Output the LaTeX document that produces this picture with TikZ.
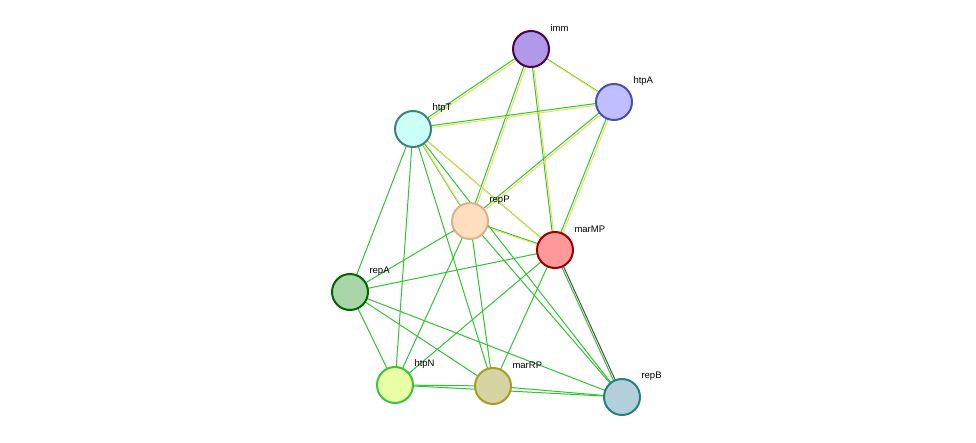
\documentclass[tikz,border=0pt]{standalone}
\usepackage{fontspec}
\setmainfont{Liberation Sans}
\begin{document}
\begin{tikzpicture}[x=1pt,y=-1pt,
 nd/.style={circle,minimum size=36pt,inner sep=0pt,line width=2pt},
 ge/.style={draw=green!70!black!80,line width=1pt},
 ye/.style={draw=yellow!85!black!70,line width=1pt},
 lb/.style={font=\fontsize{9.5pt}{10pt}\selectfont,anchor=west}]
\useasboundingbox (0,0) rectangle (976,443);
\def\nd#1#2#3#4#5#6{\node[nd,fill=#4,draw=#5] (#1) at (#2,#3) {};
 \node[lb] at (#2+16,#3-21) {#6};}
\begin{scope}[on background layer/.try]
\end{scope}
% nodes first at coordinates for edges
\coordinate (imm) at (531,49);
\coordinate (htpA) at (614,102);
\coordinate (htpT) at (413,129);
\coordinate (repP) at (470,221);
\coordinate (marMP) at (555,250);
\coordinate (repA) at (350,292);
\coordinate (htpN) at (395,385);
\coordinate (marRP) at (493,386);
\coordinate (repB) at (622,397);
\foreach \a/\b in {imm/htpT,imm/htpA,imm/repP,imm/marMP,htpA/htpT,htpA/repP,htpA/marMP,htpT/repP,htpT/marMP,repP/marMP}{
 \draw[ge,transform canvas={shift={(-0.8,-0.8)}}] (\a)--(\b);
 \draw[ye,transform canvas={shift={(0.8,0.8)}}] (\a)--(\b);}
\foreach \a/\b in {htpT/repA,htpT/htpN,htpT/marRP,htpT/repB,repP/repA,repP/htpN,repP/marRP,repP/repB,marMP/repA,marMP/htpN,marMP/marRP,repA/htpN,repA/marRP,repA/repB,htpN/marRP,htpN/repB,marRP/repB}
 \draw[ge] (\a)--(\b);
\draw[ge,transform canvas={shift={(-1,0)}}] (marMP)--(repB);
\draw[line width=1pt,draw=black!70,transform canvas={shift={(1,0)}}] (marMP)--(repB);
\nd{n1}{531}{49}{violet!45!blue!40}{violet!60!black}{imm}
\nd{n2}{614}{102}{blue!25}{blue!40!gray}{htpA}
\nd{n3}{413}{129}{green!20!cyan!20}{teal!50!gray}{htpT}
\nd{n4}{470}{221}{orange!25}{brown!60}{repP}
\nd{n5}{555}{250}{red!40}{red!60!black}{marMP}
\nd{n6}{350}{292}{green!35!gray!50}{green!40!black}{repA}
\nd{n7}{395}{385}{lime!35}{green!50!gray}{htpN}
\nd{n8}{493}{386}{yellow!40!gray!60}{olive!80}{marRP}
\nd{n9}{622}{397}{cyan!40!gray!50}{teal!70!gray}{repB}
\end{tikzpicture}
\end{document}
